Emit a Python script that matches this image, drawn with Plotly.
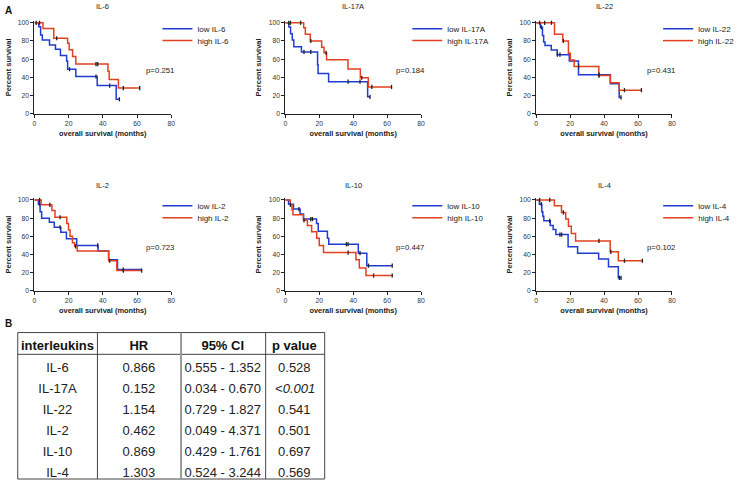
import plotly.graph_objects as go

# ---- Kaplan-Meier curves (months, percent survival) ----
panels = ["IL-6", "IL-17A", "IL-22", "IL-2", "IL-10", "IL-4"]
p_texts = ["p=0.251", "p=0.184", "p=0.431", "p=0.723", "p=0.447", "p=0.102"]

il6_low_t = [0, 2.5, 3.6, 4.6, 8.8, 12.3, 15.2, 18.8, 19.4, 24.2, 36.7, 47.8, 49.7]
il6_low_s = [100, 95.6, 86.6, 81, 75.7, 71, 64, 58, 49, 41, 31, 16, 16]
il6_high_t = [0, 5.0, 11.3, 19.4, 20.3, 22.3, 24.2, 43.0, 43.7, 49.1, 61.6]
il6_high_s = [100, 93.8, 83, 77.5, 70.3, 63, 54.7, 46.7, 37.7, 28.3, 28.3]

il17a_low_t = [0, 2.1, 3.1, 4.1, 5.0, 9.5, 19.0, 19.3, 25.5, 48.5, 49.9]
il17a_low_s = [100, 95.3, 88, 81, 73.7, 68, 54, 44.2, 35.3, 18.7, 18.7]
il17a_high_t = [0, 10.8, 11.8, 14.7, 21.4, 22.8, 24.3, 36.9, 44.2, 48.9, 62.6]
il17a_high_s = [100, 94.6, 87.4, 80, 73, 67, 59.4, 49.3, 39.6, 29.5, 29.5]

il22_low_t = [0, 2.5, 3.7, 4.4, 5.2, 8.9, 12.4, 19.5, 24.9, 43.7, 48.9, 50]
il22_low_s = [100, 95, 86, 79, 75, 70, 65, 58, 43, 33, 18, 18]
il22_high_t = [0, 10.8, 15.7, 19.0, 20.1, 22.4, 36.9, 43.7, 48.9, 62]
il22_high_s = [100, 87.4, 80, 66.5, 59, 52, 42, 34, 26, 26]

il2_low_t = [0, 2.3, 3.3, 4.2, 8.7, 11.6, 15.4, 18.7, 24.7, 37.2, 43.4, 48.6, 62.7]
il2_low_s = [100, 95.3, 87, 80, 75.5, 70, 64.6, 57.4, 50, 44, 34.3, 23.5, 23.5]
il2_high_t = [0, 3.9, 10.2, 12.0, 18.9, 19.9, 20.8, 22.2, 23.5, 25.0, 43.4, 48.2, 62.7]
il2_high_s = [100, 94.6, 88.4, 81, 74, 67, 60, 53, 49, 44, 33.2, 22.4, 22.4]

il10_low_t = [0, 1.9, 4.8, 8.7, 10.7, 18.4, 19.4, 24.8, 25.6, 43.0, 48.0, 63]
il10_low_s = [100, 95.3, 90, 84.5, 79, 74, 65.7, 57.8, 51.3, 41.5, 27.8, 27.8]
il10_high_t = [0, 2.9, 3.9, 4.5, 10.7, 13.0, 15.5, 18.5, 20.0, 22.5, 41.6, 43.6, 47.5, 63]
il10_high_s = [100, 94.6, 89, 83.8, 77.6, 72, 65, 57.8, 50, 42.2, 34.3, 25.3, 17, 17]

il4_low_t = [0, 1.9, 3.3, 3.9, 4.5, 8.3, 10.0, 11.6, 18.8, 24.4, 36.8, 42.6, 48.4, 50]
il4_low_s = [100, 95.3, 87, 82, 77, 72, 67.5, 62, 48.7, 41.5, 35, 26.7, 14.4, 14.4]
il4_high_t = [0, 10.7, 14.9, 17.4, 19.0, 20.7, 23.2, 43.6, 48.4, 62.6]
il4_high_s = [100, 93.5, 86.3, 79, 71, 63, 55, 43, 33.2, 33.2]

# censored observations (months)
il6_low_c = [1, 20.5, 36, 44, 49.7]
il6_high_c = [3, 13, 36, 37, 52, 61.6]
il17a_low_c = [2, 11, 15, 37, 44, 49.9]
il17a_high_c = [3, 9, 15, 24, 45, 51, 62.6]
il22_low_c = [3, 12.5, 14, 37, 50]
il22_high_c = [2, 5, 9, 16, 25, 37, 52, 62]
il2_low_c = [3, 15, 37, 52]
il2_high_c = [3, 9, 15, 24, 44, 52, 62.7]
il10_low_c = [8, 15, 16, 36, 37, 44, 49, 63]
il10_high_c = [3, 11, 37, 52, 63]
il4_low_c = [3, 8, 14, 15, 49, 50]
il4_high_c = [2, 8, 16, 37, 44, 52, 62.6]

curves = [
    (il6_low_t, il6_low_s, il6_low_c, il6_high_t, il6_high_s, il6_high_c),
    (il17a_low_t, il17a_low_s, il17a_low_c, il17a_high_t, il17a_high_s, il17a_high_c),
    (il22_low_t, il22_low_s, il22_low_c, il22_high_t, il22_high_s, il22_high_c),
    (il2_low_t, il2_low_s, il2_low_c, il2_high_t, il2_high_s, il2_high_c),
    (il10_low_t, il10_low_s, il10_low_c, il10_high_t, il10_high_s, il10_high_c),
    (il4_low_t, il4_low_s, il4_low_c, il4_high_t, il4_high_s, il4_high_c),
]

# ---- table B ----
interleukins = ["IL-6", "IL-17A", "IL-22", "IL-2", "IL-10", "IL-4"]
hr = ["0.866", "0.152", "1.154", "0.462", "0.869", "1.303"]
ci = ["0.555 - 1.352", "0.034 - 0.670", "0.729 - 1.827",
      "0.049 - 4.371", "0.429 - 1.761", "0.524 - 3.244"]
pval = ["0.528", "<0.001", "0.541", "0.501", "0.697", "0.569"]
headers = ["interleukins", "HR", "95% CI", "p value"]

W, H = 740, 484
BLUE = "#1f3ccf"
RED = "#e2401e"
FONT = "Arial, Liberation Sans, sans-serif"


def step_at(t, s, x):
    v = s[0]
    for ti, si in zip(t, s):
        if ti <= x:
            v = si
    return v


def nobreak(txt):
    # keep table cells on one line
    return txt.replace(" ", "\u00a0")


# panel geometry in pixels
col_left = [33, 288, 543]
col_w = [139, 138, 138]
row_bot = [113, 292]
legend_y = [[27, 39], [206, 218]]
title_y = [5, 185]

fig = go.Figure()
layout = {}
lg_count = 0
for i, name in enumerate(panels):
    r, c = divmod(i, 3)
    n = "" if i == 0 else str(i + 1)
    lt, ls, lc, ht, hs, hc = curves[i]
    bot = row_bot[r]
    top = bot - 92 * 1.02
    x0, x1 = col_left[c], col_left[c] + col_w[c]

    for k, (t, s, label, color) in enumerate(((lt, ls, "low " + name, BLUE),
                                              (ht, hs, "high " + name, RED))):
        lg_count += 1
        lg = "legend" if lg_count == 1 else "legend" + str(lg_count)
        fig.add_trace(go.Scatter(x=t, y=s, mode="lines", line=dict(color=color, width=1.5, shape="hv"),
                                 name=label, xaxis="x" + n, yaxis="y" + n, legend=lg))
        layout[lg] = dict(x=(x1 - 14) / W, y=1 - legend_y[r][k] / H, xanchor="left", yanchor="middle",
                          bgcolor="rgba(0,0,0,0)", font=dict(size=8, color="#222", family=FONT),
                          itemwidth=30)
    for t, s, cens in ((lt, ls, lc), (ht, hs, hc)):
        fig.add_trace(go.Scatter(x=cens, y=[step_at(t, s, x) for x in cens], mode="markers",
                                 marker=dict(symbol="line-ns", size=3, line=dict(color="#222", width=1.3)),
                                 showlegend=False, xaxis="x" + n, yaxis="y" + n, cliponaxis=False))

    axis_common = dict(showline=True, linecolor="#222", linewidth=1, ticks="outside", ticklen=3,
                       tickwidth=1, tickcolor="#222", showgrid=False, zeroline=False,
                       tickfont=dict(size=6.8, color="#333", family=FONT))
    layout["xaxis" + n] = dict(axis_common, domain=[x0 / W, x1 / W], range=[0, 80],
                               tickvals=[0, 20, 40, 60, 80], anchor="y" + n,
                               title=dict(text="<b>overall survival (months)</b>", standoff=4,
                                          font=dict(size=7.4, color="#222", family=FONT)))
    layout["yaxis" + n] = dict(axis_common, domain=[1 - bot / H, 1 - top / H], range=[0, 102],
                               tickvals=[0, 20, 40, 60, 80, 100], anchor="x" + n,
                               title=dict(text="<b>Percent survival</b>", standoff=5,
                                          font=dict(size=7.5, color="#222", family=FONT)))
    fig.add_annotation(text=name, xref="x" + n + " domain", yref="paper", x=0.5,
                       y=1 - title_y[r] / H, showarrow=False, yanchor="middle",
                       font=dict(size=7.5, color="#222", family=FONT))
    fig.add_annotation(text=p_texts[i], xref="x" + n, yref="y" + n, x=64, y=47.5, xanchor="left",
                       showarrow=False, font=dict(size=7.8, color="#222", family=FONT))

# table: plain cells in one table, italic p values overlaid in a second one
tab_left, tab_top = 16, 334
col_px = [81, 85, 86, 60]
tab_right = tab_left + sum(col_px)
is_italic = [v.startswith("<") for v in pval]
clear = "rgba(0,0,0,0)"
fig.add_trace(go.Table(
    domain=dict(x=[tab_left / W, tab_right / W], y=[0, 1 - tab_top / H]),
    columnwidth=col_px,
    header=dict(values=[nobreak(h) for h in headers], height=22, align="center",
                fill_color="white", line=dict(color=clear, width=0),
                font=dict(size=13, color="#111", family=FONT, weight="bold")),
    cells=dict(values=[interleukins, hr, [nobreak(v) for v in ci],
                       ["" if it else v for v, it in zip(pval, is_italic)]],
               height=21, align="center", fill_color="white", line=dict(color=clear, width=0),
               font=dict(size=13, color="#222", family=FONT)),
))
p_left = tab_right - col_px[-1]
fig.add_trace(go.Table(
    domain=dict(x=[p_left / W, tab_right / W], y=[0, 1 - tab_top / H]),
    header=dict(values=[""], height=19, fill_color=clear, line=dict(color=clear, width=0),
                font=dict(size=13)),
    cells=dict(values=[[v if it else "" for v, it in zip(pval, is_italic)]], height=21,
               align="center", fill_color=clear, line=dict(color=clear, width=0),
               font=dict(size=13, color="#222", family=FONT, style="italic")),
))
tab_bot = tab_top + 22 + 21 * len(interleukins)
shapes = [dict(type="rect", xref="paper", yref="paper", x0=tab_left / W, x1=tab_right / W,
               y0=1 - tab_bot / H, y1=1 - tab_top / H, line=dict(color="#444", width=1)),
          dict(type="line", xref="paper", yref="paper", x0=tab_left / W, x1=tab_right / W,
               y0=1 - (tab_top + 22) / H, y1=1 - (tab_top + 22) / H, line=dict(color="#444", width=1))]
xs = tab_left
for k, wpx in enumerate(col_px[:-1]):
    xs += wpx
    shapes.append(dict(type="line", xref="paper", yref="paper", x0=xs / W, x1=xs / W,
                       y0=1 - tab_bot / H, y1=1 - tab_top / H,
                       line=dict(color="#999" if k == 1 else "#444", width=2 if k == 1 else 1)))

fig.add_annotation(text="<b>A</b>", xref="paper", yref="paper", x=1 / W, y=1 - 1 / H,
                   xanchor="left", yanchor="top", showarrow=False,
                   font=dict(size=10, color="#111", family=FONT))
fig.add_annotation(text="<b>B</b>", xref="paper", yref="paper", x=1 / W, y=1 - 317 / H,
                   xanchor="left", yanchor="top", showarrow=False,
                   font=dict(size=10, color="#111", family=FONT))

fig.update_layout(width=W, height=H, margin=dict(l=0, r=0, t=0, b=0),
                  paper_bgcolor="white", plot_bgcolor="white", shapes=shapes,
                  font=dict(family=FONT), **layout)

fig.write_html("out.html", config={"displayModeBar": False},
               post_script="document.body.style.margin='0';")
